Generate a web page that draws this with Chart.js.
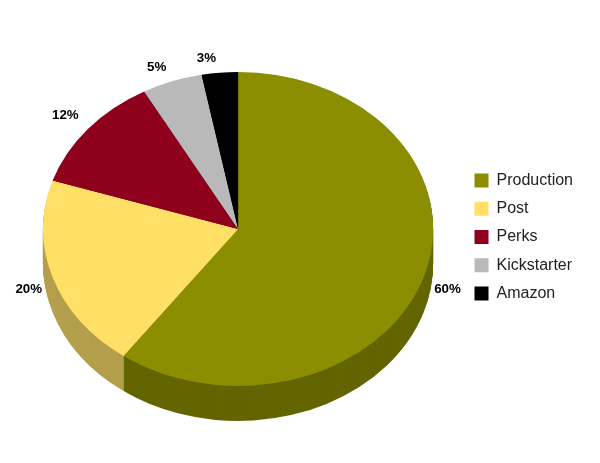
<!DOCTYPE html>
<html>
<head>
<meta charset="utf-8">
<script src="https://cdn.jsdelivr.net/npm/chart.js@4"></script>
<style>
  html, body { margin: 0; background: #fff; }
  canvas { display: block; }
</style>
</head>
<body>
<canvas id="budgetPie" width="600" height="463"></canvas>
<script>
// Chart data
const categories = ['Production', 'Post', 'Perks', 'Kickstarter', 'Amazon'];
const shares = [60, 20, 12, 5, 3];
const topColors = ['#8b8e00', '#ffdf66', '#8f001c', '#b9b9b9', '#000000'];
const sideColors = ['#626400', '#b39e4b', '#650014', '#828282', '#000000'];

// Tilt of the fake 3D pie
const squash = 157 / 195;
const depth = 35;
const pieCenterY = 229;

function tilt(ctx, arc, drop) {
  ctx.translate(arc.x, pieCenterY + drop);
  ctx.scale(1, squash);
  ctx.translate(-arc.x, -arc.y);
}

const pie3d = {
  id: 'pie3d',
  beforeDatasetsDraw(chart) {
    const ctx = chart.ctx;
    const arcs = chart.getDatasetMeta(0).data;
    // side wall: stack of darker copies of each slice, painted underneath
    // so pixels already covered stay flat
    ctx.save();
    ctx.globalCompositeOperation = 'destination-over';
    for (let drop = 1; drop <= depth; drop++) {
      ctx.save();
      tilt(ctx, arcs[0], drop);
      arcs.forEach((arc, i) => {
        const side = Object.create(arc);
        side.options = { ...arc.options, backgroundColor: sideColors[i] };
        side.draw(ctx);
      });
      ctx.restore();
    }
    ctx.restore();
    ctx.save();
    tilt(ctx, arcs[0], 0);
  },
  afterDatasetsDraw(chart) {
    chart.ctx.restore();
  }
};

const percentLabels = {
  id: 'percentLabels',
  afterDraw(chart) {
    const ctx = chart.ctx;
    ctx.save();
    ctx.font = 'bold 13.33px "Liberation Sans", Arial, sans-serif';
    ctx.fillStyle = '#000';
    ctx.textAlign = 'center';
    ctx.textBaseline = 'middle';
    chart.getDatasetMeta(0).data.forEach((arc, i) => {
      const mid = (arc.startAngle + arc.endAngle) / 2;
      const cos = Math.cos(mid);
      const sin = Math.sin(mid);
      const text = shares[i] + '%';
      const half = ctx.measureText(text).width / 2;
      const x = arc.x + arc.outerRadius * cos + Math.sign(cos) * (half + 3 + 8 * Math.abs(cos));
      const y = pieCenterY + arc.outerRadius * squash * sin + (sin > 0 ? 12 : -14);
      ctx.fillText(text, x, y);
    });
    ctx.restore();
  }
};

const ctx = document.getElementById('budgetPie').getContext('2d');

const budgetChart = new Chart(ctx, {
  type: 'pie',
  data: {
    labels: categories,
    datasets: [{
      data: shares,
      backgroundColor: topColors,
      borderWidth: 0,
      clip: false
    }]
  },
  options: {
    responsive: false,
    animation: false,
    layout: { padding: { left: 14, right: 17, top: 42, bottom: 31 } },
    plugins: {
      tooltip: { enabled: false },
      legend: {
        position: 'right',
        labels: {
          boxWidth: 14,
          boxHeight: 14,
          padding: 12.25,
          color: '#222',
          font: { family: '"Liberation Sans", Arial, sans-serif', size: 16 }
        }
      }
    }
  },
  plugins: [pie3d, percentLabels]
});
</script>
</body>
</html>
